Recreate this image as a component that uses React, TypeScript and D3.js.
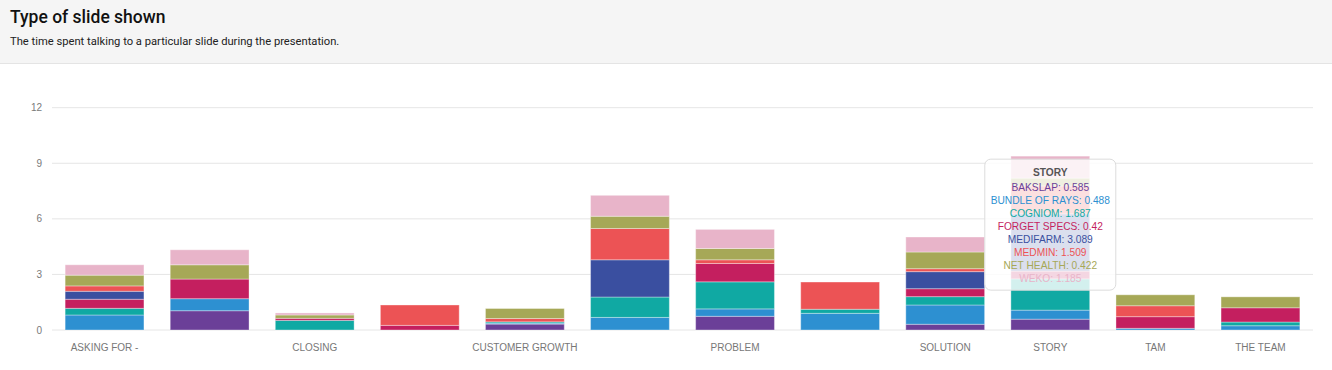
import * as d3 from "d3";
import React from "react";

const categories = [
  "ASKING FOR -",
  "BUSINESS MODEL",
  "CLOSING",
  "COMPETITION",
  "CUSTOMER GROWTH",
  "MARKET",
  "PROBLEM",
  "PRODUCT",
  "SOLUTION",
  "STORY",
  "TAM",
  "THE TEAM",
];
// labels the axis actually shows (the others are skipped)
const shownLabels = [
  "ASKING FOR -",
  "CLOSING",
  "CUSTOMER GROWTH",
  "PROBLEM",
  "SOLUTION",
  "STORY",
  "TAM",
  "THE TEAM",
];
const seriesNames = [
  "BAKSLAP",
  "BUNDLE OF RAYS",
  "COGNIOM",
  "FORGET SPECS",
  "MEDIFARM",
  "MEDMIN",
  "NET HEALTH",
  "WEKO",
];
const seriesColors = [
  "#6b3f98",
  "#2d90d1",
  "#10a9a3",
  "#c41f5f",
  "#3a4fa0",
  "#ec5355",
  "#a6a857",
  "#e8b4c9",
];

const bakslap = [0, 1.04, 0, 0, 0.32, 0, 0.74, 0, 0.31, 0.585, 0, 0];
const bundleOfRays = [0.81, 0.65, 0, 0, 0.05, 0.68, 0.4, 0.9, 1.04, 0.488, 0.09, 0.23];
const cogniom = [0.36, 0, 0.52, 0, 0.07, 1.1, 1.46, 0.22, 0.45, 1.687, 0, 0.2];
const forgetSpecs = [0.49, 1.06, 0.11, 0.25, 0, 0, 0.99, 0, 0.43, 0.42, 0.63, 0.77];
const medifarm = [0.43, 0, 0, 0, 0, 2.01, 0, 0, 0.92, 3.089, 0, 0];
const medmin = [0.29, 0, 0, 1.1, 0.18, 1.69, 0.2, 1.47, 0.16, 1.509, 0.59, 0];
const netHealth = [0.58, 0.77, 0.18, 0, 0.54, 0.66, 0.61, 0, 0.9, 0.422, 0.59, 0.59];
const weko = [0.56, 0.81, 0.11, 0, 0, 1.13, 1.03, 0, 0.81, 1.185, 0, 0];

const yTickValues = [0, 3, 6, 9, 12];
const tooltipCategory = "STORY";

const allSeries = [bakslap, bundleOfRays, cogniom, forgetSpecs, medifarm, medmin, netHealth, weko];

export default function App() {
  const width = 1332;
  const height = 370;
  const plot = { left: 52, right: 1313, top: 107.7, bottom: 330 };

  const rows = categories.map((c, i) => {
    const row: any = { category: c };
    seriesNames.forEach((s, k) => {
      row[s] = allSeries[k][i];
    });
    return row;
  });

  const stacked = d3.stack().keys(seriesNames)(rows);

  const x = d3
    .scaleBand()
    .domain(categories)
    .range([plot.left, plot.right])
    .paddingInner(0.25)
    .paddingOuter(0.125);

  const y = d3.scaleLinear().domain([0, 12]).range([plot.bottom, plot.top]);

  const ti = categories.indexOf(tooltipCategory);
  const tipW = 131;
  const tipH = 131;
  const tipX = x(tooltipCategory)! + x.bandwidth() / 2 - tipW / 2;
  const tipY = y(d3.sum(allSeries, (s) => s[ti])) + 3;

  return (
    <div>
      <style>{`body { margin: 0; }`}</style>
      <svg width={width} height={height} style={{ display: "block" }}>
        <rect x={0} y={0} width={width} height={63} fill="#f5f5f5" />
        <line x1={0} x2={width} y1={63.5} y2={63.5} stroke="#e4e4e4" />
        <text
          x={10}
          y={22.5}
          fontFamily="Roboto"
          fontWeight={500}
          fontSize={17.5}
          fill="#111"
        >
          Type of slide shown
        </text>
        <text x={10} y={44.5} fontFamily="Roboto" fontSize={11.2} fill="#222">
          The time spent talking to a particular slide during the presentation.
        </text>

        <g fontFamily="'Liberation Sans', Arial, sans-serif" fontSize={10}>
          {yTickValues.map((t) => (
            <g key={t}>
              <line
                x1={plot.left}
                x2={plot.right}
                y1={y(t)}
                y2={y(t)}
                stroke="#e6e6e6"
                strokeWidth={1}
              />
              <text
                x={42}
                y={y(t)}
                textAnchor="end"
                dominantBaseline="central"
                fill="#7a7a7a"
              >
                {t}
              </text>
            </g>
          ))}
          {shownLabels.map((c) => (
            <text
              key={c}
              x={x(c)! + x.bandwidth() / 2}
              y={347}
              textAnchor="middle"
              dominantBaseline="central"
              fill="#777"
            >
              {c}
            </text>
          ))}
        </g>

        <g>
          {stacked.map((layer, k) => (
            <g key={layer.key} fill={seriesColors[k]}>
              {layer.map((d, i) =>
                d[1] - d[0] > 0 ? (
                  <rect
                    key={i}
                    x={x(categories[i])}
                    y={y(d[1])}
                    width={x.bandwidth()}
                    height={y(d[0]) - y(d[1])}
                    stroke="rgba(255,255,255,0.35)"
                    strokeWidth={1}
                  />
                ) : null
              )}
            </g>
          ))}
        </g>

        <g fontFamily="'Liberation Sans', Arial, sans-serif" fontSize={10.2}>
          <rect
            x={tipX}
            y={tipY}
            width={tipW}
            height={tipH}
            rx={6}
            fill="#fff"
            fillOpacity={0.82}
            stroke="#dcdcdc"
          />
          <text
            x={tipX + tipW / 2}
            y={tipY + 13.5}
            textAnchor="middle"
            dominantBaseline="central"
            fontWeight="bold"
            fill="#555"
          >
            {tooltipCategory}
          </text>
          {seriesNames.map((s, k) => (
            <text
              key={s}
              x={tipX + tipW / 2}
              y={tipY + 28.5 + k * 13}
              textAnchor="middle"
              dominantBaseline="central"
              fill={seriesColors[k]}
            >
              {s}: {allSeries[k][ti]}
            </text>
          ))}
        </g>
      </svg>
    </div>
  );
}
